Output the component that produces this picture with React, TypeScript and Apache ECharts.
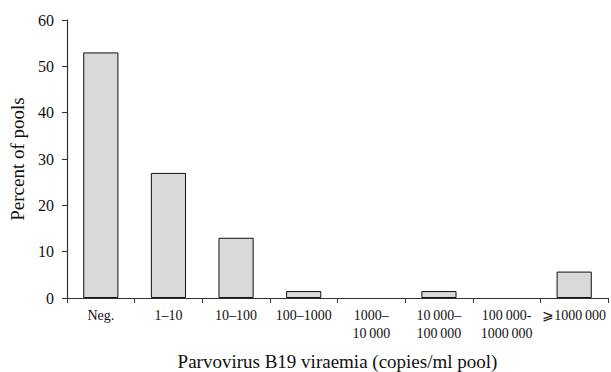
import React, { useEffect, useRef } from "react";
import * as echarts from "echarts";

const categories = [
  "Neg.",
  "1–10",
  "10–100",
  "100–1000",
  "1000–\n10\u2009000",
  "10\u2009000–\n100\u2009000",
  "100\u2009000-\n1000\u2009000",
  "⩾1000\u2009000",
];
const percentOfPools = [53, 27, 13, 1.5, 0, 1.5, 0, 5.7];
const yTicks = { min: 0, max: 60, interval: 10 };

export default function App() {
  const ref = useRef<HTMLDivElement>(null);
  useEffect(() => {
    const chart = echarts.init(ref.current!, null, { renderer: "svg" });
    const font = "'Liberation Serif', 'Times New Roman', serif";
    chart.setOption({
      animation: false,
      backgroundColor: "#ffffff",
      grid: {
        left: 67,
        right: 3,
        top: 20,
        bottom: 74,
        containLabel: false,
        outerBoundsMode: "none",
      },
      xAxis: {
        type: "category",
        data: categories,
        axisLine: { lineStyle: { color: "#333", width: 1.2 } },
        axisTick: { show: true, length: 5, inside: false, lineStyle: { color: "#333" } },
        axisLabel: {
          interval: 0,
          margin: 8,
          fontFamily: font,
          fontSize: 14,
          color: "#111",
          lineHeight: 18,
          hideOverlap: false,
        },
        name: "Parvovirus B19 viraemia (copies/ml pool)",
        nameLocation: "middle",
        nameGap: 63,
        nameTextStyle: {
          fontFamily: font,
          fontSize: 19,
          color: "#111",
          verticalAlign: "middle",
          lineHeight: 20,
        },
      },
      yAxis: {
        type: "value",
        min: yTicks.min,
        max: yTicks.max,
        interval: yTicks.interval,
        splitLine: { show: false },
        axisLine: { show: true, lineStyle: { color: "#333", width: 1.2 } },
        axisTick: { show: true, length: 5, lineStyle: { color: "#333" } },
        axisLabel: { fontFamily: font, fontSize: 16, color: "#111", margin: 13 },
        name: "Percent of pools",
        nameLocation: "middle",
        nameGap: 38,
        nameTextStyle: { fontFamily: font, fontSize: 19, color: "#111" },
      },
      series: [
        {
          type: "bar",
          data: percentOfPools.map((v) =>
            v === 0 ? { value: v, itemStyle: { borderWidth: 0 } } : v
          ),
          barWidth: "52%",
          itemStyle: { color: "#d9d9d9", borderColor: "#111", borderWidth: 1 },
        },
      ],
    });
    return () => chart.dispose();
  }, []);
  return <div ref={ref} style={{ width: 611, height: 372, position: "absolute", left: 0, top: 0 }} />;
}
